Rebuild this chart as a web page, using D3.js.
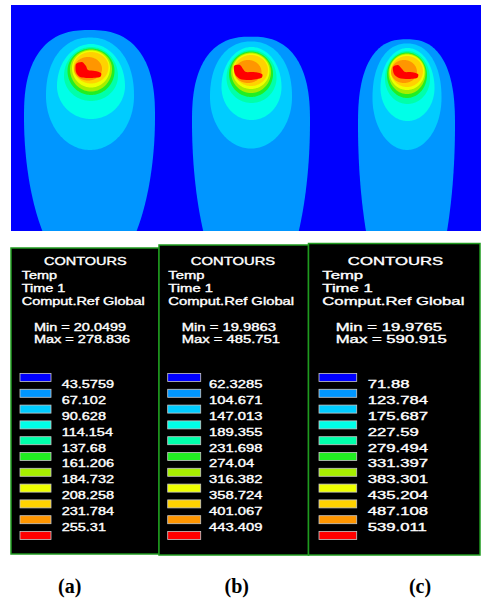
<!DOCTYPE html>
<html>
<head>
<meta charset="utf-8">
<script src="https://cdn.jsdelivr.net/npm/d3@7"></script>
<style>
  html, body { margin: 0; padding: 0; background: #fff; }
  svg { display: block; }
</style>
</head>
<body>
<svg id="chart" width="481" height="601"></svg>
<script>
// ---- data ----
var panelTags = ["(a)", "(b)", "(c)"];
var headerLines = ["Temp", "Time 1", "Comput.Ref Global"];
var minVals = ["20.0499", "19.9863", "19.9765"];
var maxVals = ["278.836", "485.751", "590.915"];
var levelsA = ["43.5759", "67.102", "90.628", "114.154", "137.68", "161.206", "184.732", "208.258", "231.784", "255.31"];
var levelsB = ["62.3285", "104.671", "147.013", "189.355", "231.698", "274.04", "316.382", "358.724", "401.067", "443.409"];
var levelsC = ["71.88", "123.784", "175.687", "227.59", "279.494", "331.397", "383.301", "435.204", "487.108", "539.011"];
var bandColors = ["#0000ff", "#0096ff", "#00ccff", "#00ffe8", "#00ffaa", "#22ee22", "#a6ee00", "#eeff00", "#ffd200", "#ff9600", "#ff0000"];

// contour bands per plume, band 1..9:
// [cx, top, widest y, bottom, half width, top squareness]
var plumeA = [
  [89.5, 30, 117, 281, 65.5, 2.5],
  [90, 37.5, 96, 150, 44, 2.2],
  [91, 44, 86, 119, 34, 2],
  [91, 47, 76, 101, 27, 2],
  [91, 48.5, 71, 95, 23.5, 2],
  [91, 49.5, 69, 91.5, 21, 2],
  [91, 50.5, 68, 87.5, 19, 2],
  [91, 52, 67, 83.5, 17.5, 2],
  [88, 57, 69, 80.5, 14, 2]
];
var plumeB = [
  [251, 36.7, 122, 308, 59, 2.5],
  [251, 41.5, 97, 148.5, 41, 2.2],
  [251.5, 47, 87, 120, 30, 2],
  [251.5, 50, 78, 103, 25, 2],
  [251, 51.5, 74, 97, 22, 2],
  [251, 52.5, 72, 93, 20, 2],
  [251, 53.5, 71, 89, 18.5, 2],
  [251, 55, 70, 86, 17, 2],
  [248, 60, 72, 83, 13.5, 2]
];
var plumeC = [
  [406.5, 39.3, 125, 318, 48.5, 2.5],
  [407, 43.5, 98, 150, 34.5, 2.2],
  [407.5, 48, 88, 121, 27, 2],
  [407.5, 51, 79, 104, 22.5, 2],
  [407, 52.5, 75, 98, 20, 2],
  [407, 53.5, 73, 94, 18.5, 2],
  [407, 54.5, 72, 90, 17.5, 2],
  [407, 56, 71, 87, 16, 2],
  [404, 60, 72, 83, 13, 2]
];
// hottest band (red crescent) outline
var hotA = [[76, 64], [82, 62], [86, 66], [88, 70], [95, 71], [101, 73], [100, 77], [90, 78], [80, 77], [76, 72]];
var hotB = [[234, 66], [240, 65], [243, 69], [246, 72], [254, 72], [262, 74], [261, 78], [250, 80], [240, 79], [235, 74]];
var hotC = [[393, 67], [398, 65], [402, 69], [405, 72], [411, 72], [418, 74], [417, 78], [408, 79], [399, 78], [394, 74]];

// ---- layout ----
var svg = d3.select("#chart");
var field = { x0: 11, y0: 5, x1: 481, y1: 231 };
var x = d3.scaleLinear().domain([field.x0, field.x1]).range([field.x0, field.x1]);
var y = d3.scaleLinear().domain([field.y0, field.y1]).range([field.y0, field.y1]);

svg.append("clipPath").attr("id", "fieldClip")
  .append("rect")
  .attr("x", x(field.x0)).attr("y", y(field.y0))
  .attr("width", x(field.x1) - x(field.x0)).attr("height", y(field.y1) - y(field.y0));

var fg = svg.append("g").attr("clip-path", "url(#fieldClip)");
fg.append("rect")
  .attr("x", x(field.x0)).attr("y", y(field.y0))
  .attr("width", x(field.x1) - x(field.x0)).attr("height", y(field.y1) - y(field.y0))
  .attr("fill", bandColors[0]);

// egg shaped contour: squarish top half, elliptic lower half
function eggPoints(d) {
  var cx = d[0], top = d[1], ym = d[2], bot = d[3], rx = d[4], n = d[5];
  var pts = [], N = 90, i, t, c, s;
  for (i = 0; i <= N; i++) {
    t = Math.PI * i / N; // upper half, right -> left
    c = Math.cos(t); s = Math.sin(t);
    pts.push([cx + rx * Math.sign(c) * Math.pow(Math.abs(c), 2 / n), ym - (ym - top) * Math.pow(s, 2 / n)]);
  }
  for (i = 1; i < N; i++) {
    t = Math.PI + Math.PI * i / N; // lower half, left -> right
    pts.push([cx + rx * Math.cos(t), ym - (bot - ym) * Math.sin(t)]);
  }
  return pts;
}

var eggLine = d3.line().x(function (p) { return x(p[0]); }).y(function (p) { return y(p[1]); });
var hotLine = d3.line().x(function (p) { return x(p[0]); }).y(function (p) { return y(p[1]); })
  .curve(d3.curveCardinalClosed.tension(0.2));

[[plumeA, hotA], [plumeB, hotB], [plumeC, hotC]].forEach(function (p) {
  var g = fg.append("g");
  g.selectAll("path.band").data(p[0]).enter().append("path")
    .attr("class", "band")
    .attr("d", function (d) { return eggLine(eggPoints(d)) + "Z"; })
    .attr("fill", function (d, i) { return bandColors[i + 1]; });
  g.append("path").attr("d", hotLine(p[1])).attr("fill", bandColors[10]);
});

// ---- legend panels ----
var panels = [
  { x0: 11, y0: 248, x1: 159, y1: 554, fs: 10.5, sx: 1.38, textX: 21.7, title: 85.3, minX: 34, swX: 20, swW: 31, labX: 61.7, tagX: 69.7, levels: levelsA },
  { x0: 159, y0: 245, x1: 308.5, y1: 555, fs: 10.5, sx: 1.41, textX: 168.3, title: 233, minX: 181.7, swX: 167.7, swW: 33, labX: 209, tagX: 236.7, levels: levelsB },
  { x0: 308.5, y0: 243.5, x1: 480, y1: 555, fs: 11, sx: 1.52, textX: 322.3, title: 395.5, minX: 335.7, swX: 319, swW: 37.7, labX: 367.7, tagX: 420, levels: levelsC }
];
var headY = [278.5, 291.5, 305];
var swY = d3.scaleLinear().domain([0, 10]).range([373.5, 531.5]);

function stretchText(g, tx, ty, sx, str, anchor, fs) {
  return g.append("text")
    .attr("transform", "translate(" + tx + "," + ty + ") scale(" + sx + ",1)")
    .attr("text-anchor", anchor || "start")
    .attr("font-family", "'Liberation Sans', Arial, sans-serif")
    .attr("font-size", fs)
    .attr("fill", "#fff")
    .attr("stroke", "#fff")
    .attr("stroke-width", 0.35)
    .text(str);
}

panels.forEach(function (p, k) {
  var g = svg.append("g");
  g.append("rect")
    .attr("x", p.x0).attr("y", p.y0)
    .attr("width", p.x1 - p.x0).attr("height", p.y1 - p.y0)
    .attr("fill", "#000").attr("stroke", "#1f9a1f").attr("stroke-width", 1.5);

  stretchText(g, p.title, 265, p.sx, "CONTOURS", "middle", p.fs);
  headerLines.forEach(function (s, i) { stretchText(g, p.textX, headY[i], p.sx, s, "start", p.fs); });
  stretchText(g, p.minX, 331, p.sx, "Min = " + minVals[k], "start", p.fs);
  stretchText(g, p.minX, 342.5, p.sx, "Max = " + maxVals[k], "start", p.fs);

  g.selectAll("rect.sw").data(bandColors).enter().append("rect")
    .attr("class", "sw")
    .attr("x", p.swX).attr("y", function (d, i) { return swY(i); })
    .attr("width", p.swW).attr("height", 8)
    .attr("fill", function (d) { return d; })
    .attr("stroke", "#c8c8c8").attr("stroke-width", 0.8);

  p.levels.forEach(function (s, i) {
    stretchText(g, p.labX, swY(i + 1) - 1, p.sx, s, "start", p.fs);
  });

  svg.append("text")
    .attr("x", p.tagX).attr("y", 593)
    .attr("text-anchor", "middle")
    .attr("font-family", "'Liberation Serif', 'Times New Roman', serif")
    .attr("font-weight", "bold")
    .attr("font-size", 20)
    .attr("fill", "#000")
    .text(panelTags[k]);
});
</script>
</body>
</html>
